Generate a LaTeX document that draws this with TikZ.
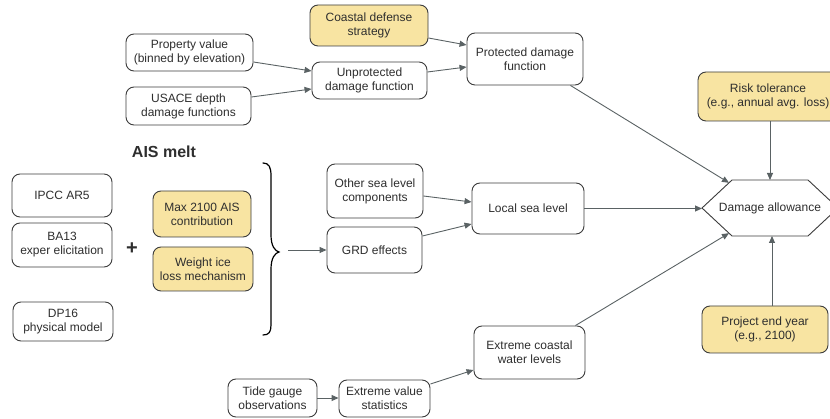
\documentclass[tikz,border=0pt]{standalone}
\usepackage{fontspec}
\setmainfont{Liberation Sans}
\usetikzlibrary{arrows.meta,calc}
\definecolor{boxyellow}{HTML}{F8E4A2}
\definecolor{edgegray}{HTML}{3C3C3C}
\definecolor{arrowgray}{HTML}{5A6264}
\definecolor{txtgray}{HTML}{2E2E2E}
\tikzset{
  box/.style={draw=edgegray, line width=0.9pt, rounded corners=8pt, fill=white,
    align=center, inner sep=2pt, text=txtgray,
    font=\fontsize{12}{14}\selectfont},
  ybox/.style={box, fill=boxyellow},
  conn/.style={draw=arrowgray, line width=0.9pt, -{Triangle[length=7pt,width=6pt]}},
}
\begin{document}
\begin{tikzpicture}[x=1pt,y=-1pt]
\useasboundingbox (0,0) rectangle (830,419);
% top group
\node[ybox, minimum width=118pt, minimum height=41pt] (cds) at (369,25.5) {Coastal defense\\strategy};
\node[box, minimum width=127pt, minimum height=37pt] (prop) at (189.5,52.5) {Property value\\(binned by elevation)};
\node[box, minimum width=125pt, minimum height=38pt] (usace) at (188.5,106) {USACE depth\\damage functions};
\node[box, minimum width=115pt, minimum height=37pt] (unp) at (369.5,80.5) {Unprotected\\damage function};
\node[box, minimum width=116pt, minimum height=52pt] (prot) at (525,59) {Protected damage\\function};
% right
\node[ybox, minimum width=140pt, minimum height=49pt] (risk) at (768,96.5) {Risk tolerance\\(e.g., annual avg. loss)};
\node[ybox, minimum width=126pt, minimum height=47pt] (proj) at (765,329.5) {Project end year\\(e.g., 2100)};
\draw[draw=edgegray, line width=0.9pt, fill=white] (702,208) -- (732,180) -- (808,180) -- (838,208) -- (808,236) -- (732,236) -- cycle;
\node[text=txtgray, font=\fontsize{12}{14}\selectfont] (da) at (770,208) {Damage allowance};
\coordinate (daT) at (770,180);
\coordinate (daB) at (772,236);
\coordinate (daW) at (702,208.5);
\coordinate (daTL) at (729,182.8);
\coordinate (daBL) at (729,233.2);
% middle
\node[box, minimum width=112pt, minimum height=51pt] (lsl) at (528,208.5) {Local sea level};
\node[box, minimum width=111pt, minimum height=53pt] (ecwl) at (529.5,352.5) {Extreme coastal\\water levels};
\node[box, minimum width=89pt, minimum height=38pt] (tide) at (272.5,398) {Tide gauge\\observations};
\node[box, minimum width=91pt, minimum height=37pt] (evs) at (384.5,398.5) {Extreme value\\statistics};
\node[box, minimum width=96pt, minimum height=54pt] (oslc) at (375,191) {Other sea level\\components};
\node[box, minimum width=95pt, minimum height=46pt] (grd) at (374.5,250) {GRD effects};
% AIS melt
\node[text=txtgray, font=\fontsize{16}{18}\selectfont\bfseries] (ais) at (164,152) {AIS melt};
\node[box, minimum width=100pt, minimum height=43pt] (ipcc) at (62,195.5) {IPCC AR5};
\node[box, minimum width=100pt, minimum height=44pt] (ba13) at (62,245) {BA13\\exper elicitation};
\node[box, minimum width=100pt, minimum height=39pt] (dp16) at (63,321.5) {DP16\\physical model};
\node[ybox, minimum width=98pt, minimum height=46pt] (max) at (202,214) {Max 2100 AIS\\contribution};
\node[ybox, minimum width=100pt, minimum height=44pt] (wice) at (203,269) {Weight ice\\loss mechanism};
\node[text=txtgray, font=\fontsize{20}{22}\selectfont\bfseries] (plus) at (132,249) {+};
% brace
\draw[black, line width=1.2pt, line cap=round]
  (263,163) .. controls (269,163) and (271,167) .. (271,176) -- (271,235)
  .. controls (271,246) and (275,251) .. (279,252)
  .. controls (275,253) and (271,258) .. (271,269) -- (271,325)
  .. controls (271,332) and (269,335) .. (263,335);
\coordinate (bstart) at (288,250);
% connectors
\draw[conn] (prop.east |- 0,62) -- (unp.west |- 0,71);
\draw[conn] (usace.east |- 0,97) -- (unp.west |- 0,89);
\draw[conn] (cds.east |- 0,38) -- (prot.west |- 0,45);
\draw[conn] (unp.east |- 0,72) -- (prot.west |- 0,67);
\draw[conn] ($(prot.south east)+(-13,0)$) -- (daTL);
\draw[conn] (daT |- risk.south) -- (daT);
\draw[conn] (daB |- proj.north) -- (daB);
\draw[conn] (lsl.east) -- (daW);
\draw[conn] ($(ecwl.north east)+(-10,0)$) -- (daBL);
\draw[conn] (oslc.east |- 0,196) -- (lsl.west |- 0,202);
\draw[conn] (grd.east |- 0,236) -- (lsl.west |- 0,224);
\draw[conn] (tide.east |- 0,398) -- (evs.west |- 0,398);
\draw[conn] (evs.east |- 0,384) -- (ecwl.west |- 0,370);
\draw[conn] (bstart) -- (grd.west);
\end{tikzpicture}
\end{document}
